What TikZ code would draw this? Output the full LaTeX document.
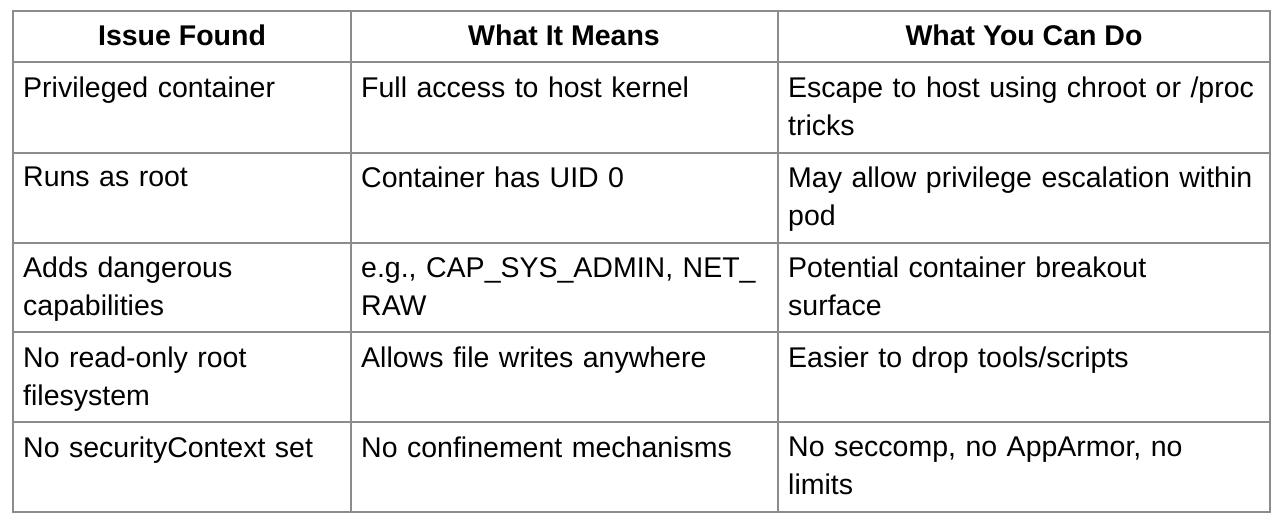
\documentclass[tikz,border=0pt]{standalone}
\usepackage{fontspec}
\setmainfont{Liberation Sans}
\definecolor{rule}{RGB}{140,140,140}
\tikzset{
  cell/.style={anchor=north west, inner sep=0pt, align=left, font=\fontsize{28.5}{38}\selectfont},
  head/.style={anchor=base, inner sep=0pt, font=\fontsize{28.5}{34}\selectfont\bfseries},
  grid/.style={draw=rule, line width=1.6pt}
}
\begin{document}
\begin{tikzpicture}[x=1pt,y=-1pt]
    \useasboundingbox (0,0) rectangle (1280,526);
    % grid
    \draw[grid] (13,11) rectangle (1270,512);
    \foreach \y in {62,153,243,332,422} \draw[grid] (13,\y) -- (1270,\y);
    \foreach \x in {351,778} \draw[grid] (\x,11) -- (\x,512);

    % header
    \node[head] (h1) at (182,46) {Issue Found};
    \node[head] (h2) at (564,46) {What It Means};
    \node[head] (h3) at (1024,46) {What You Can Do};

    % rows
    \node[cell, text width=320] (a1) at (23,77) {Privileged container};
    \node[cell, text width=410] (b1) at (361,77) {Full access to host kernel};
    \node[cell, text width=480] (c1) at (788,77) {Escape to host using chroot or /proc\\tricks};

    \node[cell, text width=320] (a2) at (23,167) {Runs as root};
    \node[cell, text width=410] (b2) at (361,167) {Container has UID 0};
    \node[cell, text width=480] (c2) at (788,167) {May allow privilege escalation within\\pod};

    \node[cell, text width=320] (a3) at (23,257) {Adds dangerous\\capabilities};
    \node[cell, text width=410] (b3) at (361,257) {e.g., CAP\_SYS\_ADMIN, NET\_\\RAW};
    \node[cell, text width=480] (c3) at (788,257) {Potential container breakout\\surface};

    \node[cell, text width=320] (a4) at (23,347) {No read-only root\\filesystem};
    \node[cell, text width=410] (b4) at (361,347) {Allows file writes anywhere};
    \node[cell, text width=480] (c4) at (788,347) {Easier to drop tools/scripts};

    \node[cell, text width=320] (a5) at (23,437) {No securityContext set};
    \node[cell, text width=410] (b5) at (361,437) {No confinement mechanisms};
    \node[cell, text width=480] (c5) at (788,437) {No seccomp, no AppArmor, no\\limits};
\end{tikzpicture}
\end{document}
